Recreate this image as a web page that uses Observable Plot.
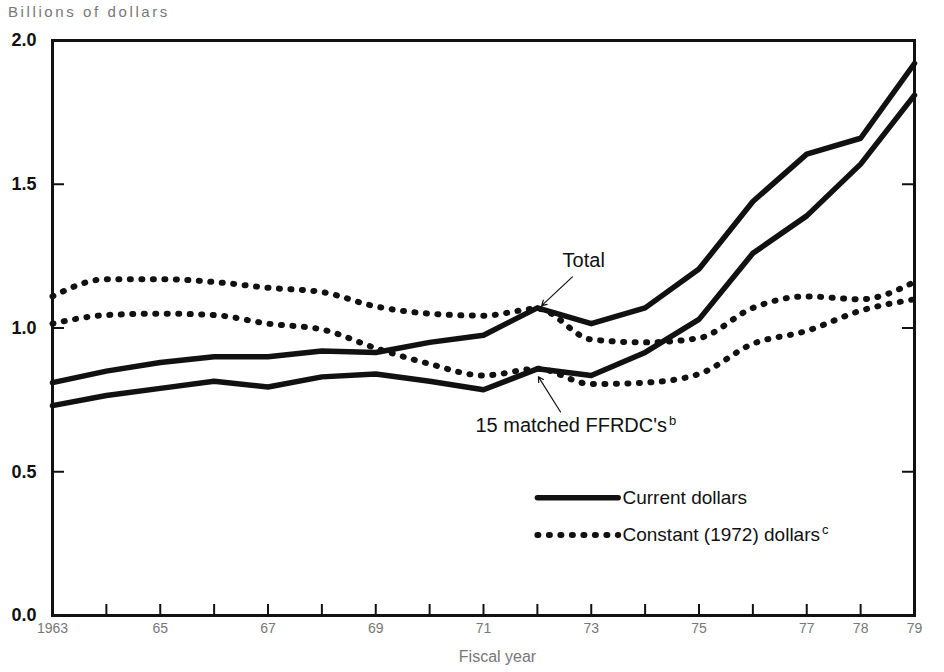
<!DOCTYPE html>
<html><head><meta charset="utf-8">
<script src="https://cdn.jsdelivr.net/npm/d3@7"></script>
<script src="https://cdn.jsdelivr.net/npm/@observablehq/plot@0.6"></script>
<style>
body{margin:0;background:#fff;}
#wrap{width:944px;height:672px;position:relative;overflow:hidden;background:#fff;}
#title{height:18px;box-sizing:border-box;padding-top:4px;font:15px "Liberation Sans",Arial,sans-serif;color:#777;letter-spacing:2.6px;padding-left:8px;line-height:15px;white-space:nowrap;}
svg{display:block;}
</style></head><body><div id="wrap"><div id="title">Billions of dollars</div></div>
<script>
// Fiscal years
const years = [1963,1964,1965,1966,1967,1968,1969,1970,1971,1972,1973,1974,1975,1976,1977,1978,1979];
// Current dollars (billions)
const totalCurrent   = [0.81,0.85,0.88,0.90,0.90,0.92,0.915,0.95,0.975,1.07,1.015,1.07,1.205,1.44,1.605,1.66,1.92];
const matchedCurrent = [0.73,0.765,0.79,0.815,0.795,0.83,0.84,0.815,0.785,0.858,0.835,0.915,1.03,1.26,1.39,1.57,1.81];
// Constant (1972) dollars (billions)
const totalConstant   = [1.11,1.17,1.17,1.16,1.14,1.125,1.075,1.05,1.043,1.067,0.96,0.95,0.965,1.07,1.11,1.10,1.16];
const matchedConstant = [1.015,1.045,1.05,1.045,1.015,0.995,0.93,0.875,0.835,0.858,0.805,0.81,0.84,0.945,0.99,1.06,1.10];
// Axis ticks
const tickYears  = [1963,1965,1967,1969,1971,1973,1975,1977,1978,1979];
const tickLabels = ["1963","65","67","69","71","73","75","77","78","79"];
const yTicks = [0,0.5,1,1.5,2];
const yInnerTicks = [0.5,1,1.5];
const innerYearTicks = years.slice(1,-1);
// Annotations (data units)
const annoTotal   = [{text:"Total", x:1972.86, y:1.235}];
const annoMatched = [{text:"15 matched FFRDC's", x:1970.85, y:0.66, sup:"b"}];
const arrows = [
  {x1:1972.65, y1:1.178, x2:1972.08, y2:1.078},
  {x1:1972.43, y1:0.708, x2:1972.02, y2:0.83}
];
const legendItems = [
  {label:"Current dollars", y:0.41, dotted:false},
  {label:"Constant (1972) dollars", y:0.28, dotted:true, sup:"c"}
];
const legendX = [1972.0, 1973.5];
const legendTextX = 1973.58;

const rows = years.map((yr,i)=>({yr, tc: totalCurrent[i], mc: matchedCurrent[i], tk: totalConstant[i], mk: matchedConstant[i]}));
const labelMap = new Map(tickYears.map((y,i)=>[y, tickLabels[i]]));
const legendLines = legendItems.flatMap(d => legendX.map(x => ({x, y:d.y, key:d.label, dotted:d.dotted})));

const W = 944, H = 654, mT = 22, mB = 57, mL = 52, mR = 30;
const innerW = W - mL - mR, innerH = H - mT - mB;
const ink = "#111";
const font = '"Liberation Sans", Arial, sans-serif';
const dotStyle = {stroke: ink, strokeWidth: 6, strokeDasharray: "1,10.5", strokeLinecap: "round"};

const plot = Plot.plot({
  width: W, height: H,
  marginTop: mT, marginBottom: mB, marginLeft: mL, marginRight: mR,
  style: {fontFamily: font, background: "white", color: ink},
  x: {domain: [1963, 1979]},
  y: {domain: [0, 2]},
  marks: [
    Plot.axisY(yTicks, {tickSize: 0, tickPadding: 16, tickFormat: d3.format(".1f"), fontSize: 18, fontWeight: "bold", fill: ink, label: null}),
    Plot.axisX(tickYears, {tickSize: 0, tickPadding: 8, tickFormat: d => labelMap.get(d), fontSize: 14, fill: "#777", label: null}),
    Plot.text(["Fiscal year"], {frameAnchor: "bottom", dx: 14, dy: 46, fontSize: 16, fill: "#777"}),
    Plot.tickY(yInnerTicks, {y: d => d, insetRight: innerW - 12, stroke: ink, strokeWidth: 2}),
    Plot.tickY(yInnerTicks, {y: d => d, insetLeft: innerW - 12, stroke: ink, strokeWidth: 2}),
    Plot.tickX(innerYearTicks, {x: d => d, insetTop: innerH - 11, stroke: ink, strokeWidth: 2}),
    Plot.line(rows, {x: "yr", y: "tk", ...dotStyle, curve: "monotone-x"}),
    Plot.line(rows, {x: "yr", y: "mk", ...dotStyle, curve: "monotone-x"}),
    Plot.line(rows, {x: "yr", y: "tc", stroke: ink, strokeWidth: 5.5, curve: "linear"}),
    Plot.line(rows, {x: "yr", y: "mc", stroke: ink, strokeWidth: 5.5, curve: "linear"}),
    Plot.arrow(arrows, {x1: "x1", y1: "y1", x2: "x2", y2: "y2", stroke: ink, strokeWidth: 1.2, headLength: 7}),
    Plot.text(annoTotal, {x: "x", y: "y", text: "text", textAnchor: "middle", fontSize: 20, fill: ink}),
    Plot.text(annoMatched, {x: "x", y: "y", text: "text", textAnchor: "start", fontSize: 20, fill: ink}),
    Plot.line(legendLines.filter(d => !d.dotted), {x: "x", y: "y", z: "key", stroke: ink, strokeWidth: 5.5}),
    Plot.line(legendLines.filter(d => d.dotted), {x: "x", y: "y", z: "key", ...dotStyle}),
    Plot.text(legendItems, {x: legendTextX, y: "y", text: "label", textAnchor: "start", fontSize: 19, fill: ink}),
    Plot.frame({stroke: ink, strokeWidth: 3})
  ]
});
document.getElementById("wrap").appendChild(plot);

// superscripts
const sups = new Map([...annoMatched.map(d => [d.text, d.sup]), ...legendItems.filter(d => d.sup).map(d => [d.label, d.sup])]);
d3.select(plot).selectAll("text").each(function() {
  const t = this.textContent;
  if (sups.has(t)) {
    d3.select(this).append("tspan").attr("dy", "-0.55em").attr("dx", "2").attr("font-size", "13").text(sups.get(t));
  }
});
</script></body></html>
